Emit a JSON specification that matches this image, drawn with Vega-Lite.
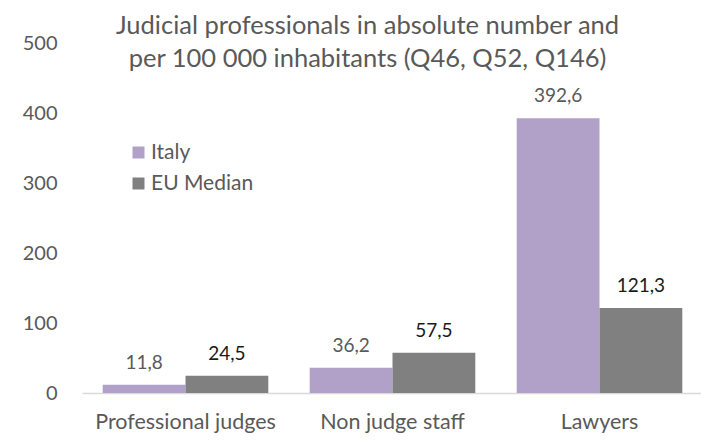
{
  "$schema": "https://vega.github.io/schema/vega-lite/v6.json",
  "width": 621,
  "height": 350,
  "autosize": "none",
  "padding": {"left": 82, "top": 43, "right": 0, "bottom": 48},
  "background": "white",
  "config": {
    "view": {"stroke": null},
    "font": "Lato",
    "locale": {"number": {"decimal": ",", "thousands": " ", "grouping": [3], "currency": ["", "€"]}}
  },
  "title": {
    "text": ["Judicial professionals in absolute number and", "per 100 000 inhabitants (Q46, Q52, Q146)"],
    "fontSize": 25.5,
    "font": "Lato",
    "fontWeight": "normal",
    "color": "#595959",
    "anchor": "middle",
    "frame": "group",
    "lineHeight": 33,
    "dx": -25,
    "dy": 43
  },
  "data": {
    "values": [
      {"cat": "Professional judges", "series": "Italy", "value": 11.8},
      {"cat": "Professional judges", "series": "EU Median", "value": 24.5},
      {"cat": "Non judge staff", "series": "Italy", "value": 36.2},
      {"cat": "Non judge staff", "series": "EU Median", "value": 57.5},
      {"cat": "Lawyers", "series": "Italy", "value": 392.6},
      {"cat": "Lawyers", "series": "EU Median", "value": 121.3}
    ]
  },
  "encoding": {
    "x": {
      "field": "cat",
      "type": "nominal",
      "sort": ["Professional judges", "Non judge staff", "Lawyers"],
      "scale": {"paddingInner": 0.2, "paddingOuter": 0.1},
      "axis": {
        "title": null,
        "labelAngle": 0,
        "labelFontSize": 21.5,
        "labelColor": "#595959",
        "labelPadding": 18,
        "labelLimit": 0,
        "ticks": false,
        "domainColor": "#d9d9d9",
        "domainWidth": 1.5
      }
    },
    "xOffset": {"field": "series", "type": "nominal", "sort": ["Italy", "EU Median"]},
    "y": {
      "field": "value",
      "type": "quantitative",
      "scale": {"domain": [0, 500]},
      "axis": {
        "title": null,
        "values": [0, 100, 200, 300, 400, 500],
        "domain": false,
        "ticks": false,
        "grid": false,
        "labelFontSize": 20,
        "labelColor": "#595959",
        "labelPadding": 25
      }
    }
  },
  "layer": [
    {
      "mark": {"type": "bar"},
      "encoding": {
        "color": {
          "field": "series",
          "type": "nominal",
          "sort": ["Italy", "EU Median"],
          "scale": {"domain": ["Italy", "EU Median"], "range": ["#B1A0C7", "#808080"]},
          "legend": {
            "title": null,
            "orient": "none",
            "legendX": 46,
            "legendY": 99,
            "symbolType": "square",
            "symbolSize": 144,
            "symbolStrokeWidth": 0,
            "labelFontSize": 21,
            "labelColor": "#595959",
            "rowPadding": 9,
            "labelOffset": 2
          }
        }
      }
    },
    {
      "mark": {"type": "text", "fontSize": 19, "baseline": "alphabetic", "dy": -16},
      "encoding": {
        "text": {"field": "value", "type": "quantitative", "format": ".1f"},
        "color": {
          "condition": {"test": "datum.series === 'Italy'", "value": "#595959"},
          "value": "#1a1a1a"
        }
      }
    }
  ]
}
